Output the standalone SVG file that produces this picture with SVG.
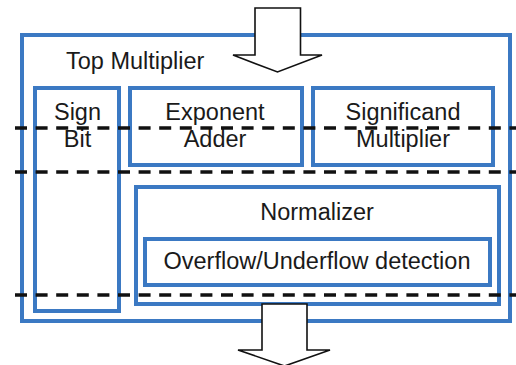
<svg xmlns="http://www.w3.org/2000/svg" width="516" height="365" viewBox="0 0 516 365">
<style>
.box{fill:none;stroke:#3b79c3;stroke-width:4}
.dash{stroke:#111;stroke-width:3.5;stroke-dasharray:12 8.6;fill:none}
.arrow{fill:#fff;stroke:#111;stroke-width:1.6;stroke-linejoin:miter}
text{font-family:"Liberation Sans",Arial,sans-serif;font-size:23.5px;fill:#1a1a1a}
.c{text-anchor:middle}
</style>
<rect width="516" height="365" fill="#fff"/>
<g id="top-multiplier">
<rect class="box" x="22" y="35" width="488" height="286"/>
<text x="66" y="69">Top Multiplier</text>
</g>
<g id="sign-bit">
<rect class="box" x="35" y="88" width="84" height="223"/>
<text class="c" x="77.5" y="120">Sign</text>
<text class="c" x="77.5" y="147">Bit</text>
</g>
<g id="exponent-adder">
<rect class="box" x="130" y="88" width="172" height="77"/>
<text class="c" x="215" y="120">Exponent</text>
<text class="c" x="215" y="147">Adder</text>
</g>
<g id="significand-multiplier">
<rect class="box" x="313" y="88" width="180" height="77"/>
<text class="c" x="403" y="120">Significand</text>
<text class="c" x="403" y="147">Multiplier</text>
</g>
<g id="normalizer">
<rect class="box" x="136" y="187" width="363" height="117"/>
<text class="c" x="317" y="220">Normalizer</text>
</g>
<g id="overflow-detection">
<rect class="box" x="145" y="239" width="345" height="46"/>
<text class="c" x="317" y="269">Overflow/Underflow detection</text>
</g>
<g id="connectors">
<path class="dash" d="M15 128H516M15 172H516M15 295H516"/>
<polygon class="arrow" points="255,8 300.5,8 300.5,55 322,55 277.5,72 233,55 255,55"/>
<polygon class="arrow" points="262,304 307,304 307,350 330,350 284.5,366 238,350 262,350"/>
</g>
</svg>
